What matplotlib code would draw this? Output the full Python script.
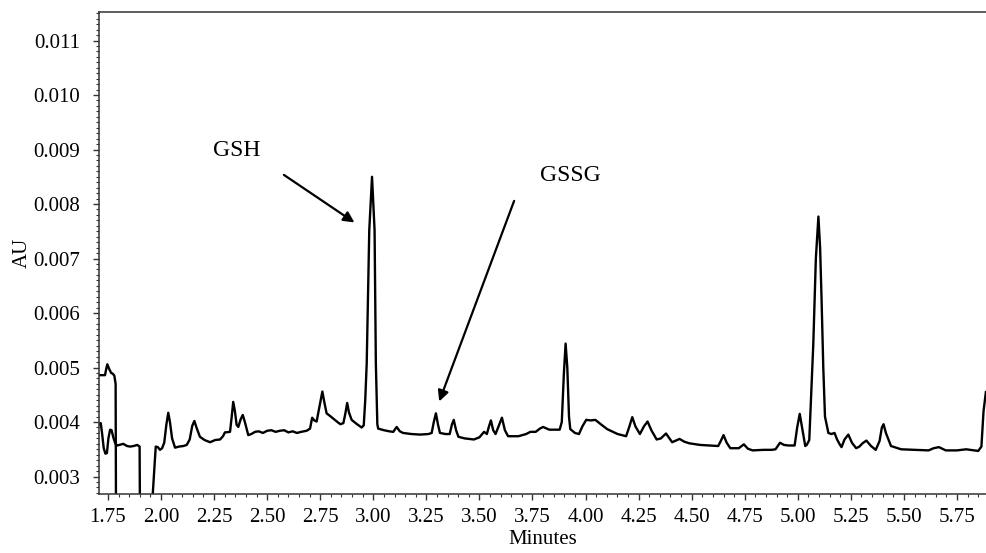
import matplotlib
matplotlib.use("Agg")
import matplotlib.pyplot as plt
from matplotlib.ticker import MultipleLocator, FixedLocator

plt.rcParams['font.family'] = ['Liberation Serif', 'DejaVu Serif']

# Main chromatogram trace (minutes, AU)
minutes = [1.711, 1.716, 1.722, 1.730, 1.738, 1.745, 1.752, 1.760, 1.767, 1.775,
           1.785, 1.795, 1.803, 1.822, 1.840, 1.854, 1.870, 1.888, 1.899, 1.901,
           1.950, 1.975, 1.985, 1.995, 2.005, 2.015, 2.025, 2.034, 2.042, 2.052,
           2.066, 2.085, 2.105, 2.121, 2.135, 2.147, 2.157, 2.167, 2.183, 2.205,
           2.231, 2.255, 2.278, 2.292, 2.301, 2.325, 2.333, 2.340, 2.348, 2.356,
           2.364, 2.375, 2.385, 2.395, 2.411, 2.425, 2.443, 2.46, 2.48, 2.50,
           2.52, 2.54, 2.56, 2.58, 2.60, 2.62, 2.64, 2.66, 2.686, 2.702,
           2.712, 2.722, 2.733, 2.745, 2.760, 2.770, 2.780, 2.800, 2.828, 2.845,
           2.859, 2.868, 2.877, 2.885, 2.898, 2.920, 2.945, 2.955, 2.962, 2.969,
           2.981, 2.994, 3.006, 3.012, 3.019, 3.023, 3.05, 3.075, 3.094, 3.11,
           3.125, 3.14, 3.18, 3.22, 3.26, 3.275, 3.285, 3.295, 3.305, 3.314,
           3.34, 3.36, 3.37, 3.379, 3.39, 3.401, 3.43, 3.474, 3.50, 3.522,
           3.535, 3.545, 3.554, 3.565, 3.576, 3.59, 3.606, 3.62, 3.635, 3.684,
           3.72, 3.74, 3.765, 3.785, 3.80, 3.829, 3.878, 3.888, 3.898, 3.906,
           3.914, 3.922, 3.928, 3.95, 3.969, 3.985, 4.003, 4.025, 4.046, 4.075,
           4.102, 4.151, 4.191, 4.205, 4.220, 4.235, 4.256, 4.275, 4.292, 4.31,
           4.335, 4.355, 4.379, 4.395, 4.408, 4.425, 4.443, 4.465, 4.489, 4.54,
           4.585, 4.625, 4.638, 4.650, 4.665, 4.682, 4.722, 4.735, 4.746, 4.765,
           4.787, 4.84, 4.876, 4.895, 4.916, 4.935, 4.956, 4.985, 4.997, 5.009,
           5.020, 5.035, 5.042, 5.054, 5.065, 5.073, 5.085, 5.097, 5.105, 5.112,
           5.120, 5.128, 5.144, 5.158, 5.173, 5.185, 5.199, 5.206, 5.220, 5.238,
           5.255, 5.275, 5.290, 5.305, 5.323, 5.345, 5.367, 5.385, 5.396, 5.404,
           5.415, 5.439, 5.487, 5.55, 5.616, 5.64, 5.665, 5.697, 5.75, 5.793,
           5.85, 5.865, 5.875, 5.886]
absorbance = [0.00396, 0.00398, 0.00380, 0.00352, 0.00342, 0.00343, 0.00370, 0.00386, 0.00385, 0.00372,
              0.00360, 0.00357, 0.00358, 0.00360, 0.00356, 0.00355, 0.00356, 0.00358, 0.00355, 0.00200,
              0.00200, 0.00355, 0.00354, 0.00349, 0.00352, 0.00362, 0.00395, 0.00417, 0.00400, 0.00370,
              0.00353, 0.00355, 0.00356, 0.00358, 0.00368, 0.00393, 0.00402, 0.00390, 0.00373, 0.00367,
              0.00363, 0.00367, 0.00368, 0.00374, 0.00381, 0.00382, 0.00410, 0.00437, 0.00420, 0.00395,
              0.00391, 0.00405, 0.00413, 0.00400, 0.00376, 0.00378, 0.00382, 0.00383, 0.00380, 0.00384,
              0.00385, 0.00382, 0.00384, 0.00385, 0.00381, 0.00383, 0.00380, 0.00382, 0.00384, 0.00388,
              0.00408, 0.00403, 0.00401, 0.00425, 0.00456, 0.00435, 0.00416, 0.00410, 0.00401, 0.00396,
              0.00398, 0.00415, 0.00435, 0.00418, 0.00404, 0.00397, 0.00390, 0.00394, 0.00440, 0.00508,
              0.00752, 0.00850, 0.00752, 0.00508, 0.00396, 0.00388, 0.00385, 0.00383, 0.00382, 0.00391,
              0.00383, 0.00380, 0.00378, 0.00377, 0.00378, 0.00380, 0.00400, 0.00416, 0.00395, 0.00380,
              0.00378, 0.00378, 0.00395, 0.00404, 0.00385, 0.00373, 0.00370, 0.00368, 0.00372, 0.00382,
              0.00378, 0.00392, 0.00403, 0.00385, 0.00378, 0.00392, 0.00408, 0.00385, 0.00374, 0.00374,
              0.00378, 0.00382, 0.00382, 0.00388, 0.00391, 0.00386, 0.00386, 0.00400, 0.00490, 0.00544,
              0.00500, 0.00410, 0.00387, 0.00380, 0.00378, 0.00392, 0.00404, 0.00403, 0.00404, 0.00395,
              0.00387, 0.00378, 0.00374, 0.00390, 0.00409, 0.00392, 0.00378, 0.00392, 0.00401, 0.00385,
              0.00368, 0.00370, 0.00379, 0.00370, 0.00363, 0.00366, 0.00369, 0.00364, 0.00361, 0.00358,
              0.00357, 0.00356, 0.00366, 0.00376, 0.00362, 0.00352, 0.00352, 0.00356, 0.00359, 0.00351,
              0.00348, 0.00349, 0.00349, 0.00350, 0.00362, 0.00358, 0.00357, 0.00357, 0.00390, 0.00415,
              0.00390, 0.00356, 0.00358, 0.00367, 0.00470, 0.00544, 0.00700, 0.00777, 0.00720, 0.00624,
              0.00500, 0.00410, 0.00380, 0.00378, 0.00380, 0.00368, 0.00358, 0.00354, 0.00368, 0.00377,
              0.00362, 0.00352, 0.00355, 0.00361, 0.00366, 0.00356, 0.00349, 0.00365, 0.00390, 0.00396,
              0.00380, 0.00356, 0.00350, 0.00349, 0.00348, 0.00352, 0.00354, 0.00348, 0.00348, 0.00350,
              0.00347, 0.00355, 0.00420, 0.00455]

# Short upper trace at the start
minutes_b = [1.711, 1.736, 1.742, 1.747, 1.755, 1.765, 1.772, 1.780, 1.786, 1.788]
absorbance_b = [0.00486, 0.00486, 0.00498, 0.00506, 0.00498, 0.00490, 0.00489, 0.00485, 0.00470, 0.00200]

x_ticks = [1.75, 2.00, 2.25, 2.50, 2.75, 3.00, 3.25, 3.50, 3.75, 4.00, 4.25, 4.50, 4.75, 5.00, 5.25, 5.50, 5.75]
y_ticks = [0.003, 0.004, 0.005, 0.006, 0.007, 0.008, 0.009, 0.010, 0.011]

fig = plt.figure(figsize=(9.86, 5.53), dpi=100)
ax = fig.add_axes([0.1009, 0.1067, 0.8991, 0.8716])

ax.plot(minutes, absorbance, color='black', lw=1.7, solid_joinstyle='round')
ax.plot(minutes_b, absorbance_b, color='black', lw=1.7, solid_joinstyle='round')

ax.set_xlim(1.710, 5.8866)
ax.set_ylim(0.00268, 0.011523)

ax.xaxis.set_major_locator(FixedLocator(x_ticks))
ax.set_xticklabels([f"{v:.2f}" for v in x_ticks])
ax.xaxis.set_minor_locator(MultipleLocator(0.05))
ax.yaxis.set_major_locator(FixedLocator(y_ticks))
ax.set_yticklabels([f"{v:.3f}" for v in y_ticks])
ax.yaxis.set_minor_locator(MultipleLocator(0.0001))

ax.tick_params(axis='both', which='major', labelsize=15, direction='out', length=4, width=1.0, color='#333333')
ax.tick_params(axis='both', which='minor', direction='out', length=2.5, width=0.8, color='#333333')
ax.tick_params(axis='x', which='major', pad=6)
ax.tick_params(axis='y', which='major', pad=10)
ax.spines['right'].set_visible(False)
for s in ['left', 'bottom', 'top']:
    ax.spines[s].set_linewidth(1.1)
    ax.spines[s].set_color('#333333')

ax.set_xlabel('Minutes', fontsize=15, labelpad=2)
ax.set_ylabel('AU', fontsize=15, labelpad=1)

ax.text(2.356, 0.008991, 'GSH', fontsize=17, ha='center', va='center')
ax.annotate('', xy=(2.922, 0.007633), xytext=(2.568, 0.008563),
            arrowprops=dict(arrowstyle='-|>', color='black', lw=1.6, mutation_scale=16))
ax.text(3.927, 0.008532, 'GSSG', fontsize=17, ha='center', va='center')
ax.annotate('', xy=(3.306, 0.00433), xytext=(3.668, 0.008105),
            arrowprops=dict(arrowstyle='-|>', color='black', lw=1.6, mutation_scale=16))

fig.savefig('out.png', dpi=100)
